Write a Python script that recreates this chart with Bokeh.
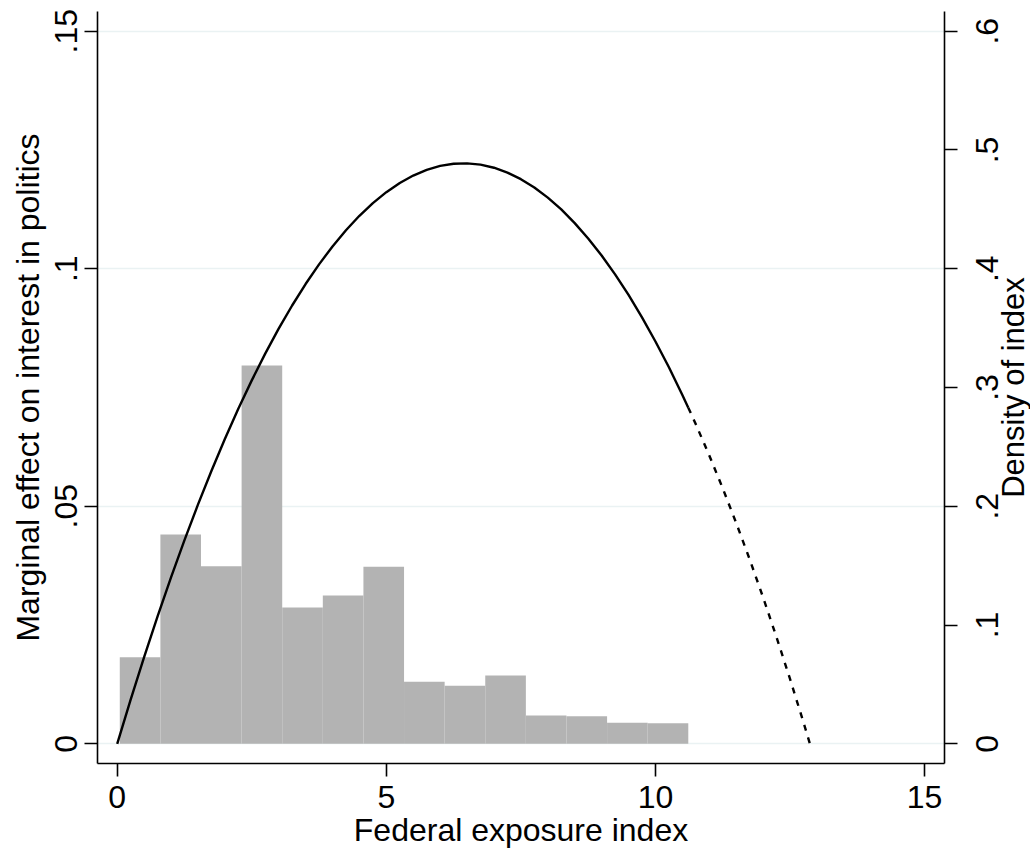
import math
import numpy as np
from bokeh.plotting import figure
from bokeh.models import Range1d, LinearAxis, FixedTicker
from bokeh.layouts import row
from bokeh.core.properties import value
from bokeh.embed import file_html
from bokeh.resources import INLINE

# ---- data ----
# histogram of the federal exposure index (density, right axis)
bin_lo = 0.048
bin_hi = 10.61
density = [0.0729, 0.1762, 0.1495, 0.3185, 0.1148, 0.1249, 0.1490,
           0.0522, 0.0488, 0.0575, 0.0238, 0.0232, 0.0177, 0.0173]

# marginal effect on interest in politics (left axis), observed range
me_x_obs = [0, 0.25, 0.5, 0.75, 1, 1.25, 1.5, 1.75, 2, 2.25, 2.5, 2.75, 3,
            3.25, 3.5, 3.75, 4, 4.25, 4.5, 4.75, 5, 5.25, 5.5, 5.75, 6, 6.25,
            6.5, 6.75, 7, 7.25, 7.5, 7.75, 8, 8.25, 8.5, 8.75, 9, 9.25, 9.5,
            9.75, 10, 10.25, 10.5, 10.61]
me_y_obs = [0, 0.00931, 0.01825, 0.02682, 0.03503, 0.04286, 0.05033, 0.05743,
            0.06416, 0.07051, 0.07650, 0.08213, 0.08738, 0.09226, 0.09678,
            0.10092, 0.10470, 0.10811, 0.11115, 0.11382, 0.11612, 0.11805,
            0.11962, 0.12081, 0.12164, 0.12210, 0.12219, 0.12191, 0.12126,
            0.12024, 0.11885, 0.11710, 0.11497, 0.11248, 0.10961, 0.10638,
            0.10278, 0.09881, 0.09448, 0.08977, 0.08469, 0.07925, 0.07344,
            0.07076]
# extrapolated part (dashed)
me_x_ext = [10.61, 10.75, 11, 11.25, 11.5, 11.75, 12, 12.25, 12.5, 12.75, 12.87]
me_y_ext = [0.07076, 0.06725, 0.06070, 0.05378, 0.04649, 0.03884, 0.03081,
            0.02241, 0.01365, 0.00452, 0]

x_ticks = [0, 5, 10, 15]
left_ticks = [0, 0.05, 0.1, 0.15]
left_labels = ["0", ".05", ".1", ".15"]
right_ticks = [0, 0.1, 0.2, 0.3, 0.4, 0.5, 0.6]
right_labels = ["0", ".1", ".2", ".3", ".4", ".5", ".6"]

x_title = "Federal exposure index"
left_title = "Marginal effect on interest in politics"
right_title = "Density of index"

# ---- styling ----
FONT = "Liberation Sans"
FS = "32px"
FS_R = "31px"
BAR = "#b3b3b3"
GRID = "#eaf2f3"
TOP, BOTTOM = 11, 90

XR = Range1d(-0.366, 15.37)
YR = Range1d(-0.00415, 0.15415)
DENS = Range1d(-0.0166, 0.6166)

p = figure(width=964, height=853, output_backend="svg", toolbar_location=None,
           x_range=XR, y_range=YR,
           min_border_left=97, min_border_right=20, min_border_top=TOP,
           min_border_bottom=BOTTOM)
p.outline_line_color = None
p.background_fill_color = "white"
p.border_fill_color = "white"
p.extra_y_ranges = {"dens": DENS}

edges = np.linspace(bin_lo, bin_hi, len(density) + 1)
p.quad(left=edges[:-1], right=edges[1:], bottom=0, top=density,
       y_range_name="dens", fill_color=BAR, line_color=None)

p.line(me_x_obs, me_y_obs, line_color="black", line_width=2.4,
       line_join="round")
p.line(me_x_ext, me_y_ext, line_color="black", line_width=2.4,
       line_dash="6 7")

def style_axis(ax):
    ax.axis_line_color = "black"
    ax.axis_line_width = 1.6
    ax.major_tick_line_color = "black"
    ax.major_tick_line_width = 1.6
    ax.major_tick_out = 13
    ax.major_tick_in = 0
    ax.minor_tick_line_color = None
    ax.major_label_text_font = FONT
    ax.major_label_text_font_size = FS
    ax.major_label_text_color = "black"
    ax.axis_label_text_font = FONT
    ax.axis_label_text_font_size = FS
    ax.axis_label_text_font_style = "normal"
    ax.axis_label_text_color = "black"

xa = p.xaxis[0]
xa.ticker = FixedTicker(ticks=x_ticks)
xa.axis_label = x_title
style_axis(xa)
xa.major_label_standoff = 9
xa.axis_label_standoff = 1

ya = p.yaxis[0]
ya.ticker = FixedTicker(ticks=left_ticks)
ya.major_label_overrides = {t: l for t, l in zip(left_ticks, left_labels)}
ya.major_label_orientation = "vertical"
ya.axis_label = left_title
style_axis(ya)
ya.major_label_standoff = 7
ya.axis_label_standoff = 7

# right axis: line and ticks only; its texts are set in the side panel
ra = LinearAxis(y_range_name="dens", ticker=FixedTicker(ticks=right_ticks))
style_axis(ra)
ra.major_label_overrides = {t: "" for t in right_ticks}
ra.major_label_text_font_size = "1px"
ra.major_label_standoff = 0
ra.axis_label = None
p.add_layout(ra, "right")

p.xgrid.visible = False
p.ygrid.grid_line_color = GRID
p.ygrid.grid_line_width = 1.5
p.ygrid.ticker = FixedTicker(ticks=left_ticks)

# side panel for the right-axis texts (read bottom to top, as in the original)
SIDE_W = 1030 - 964
p2 = figure(width=SIDE_W, height=853, output_backend="svg",
            toolbar_location=None, x_axis_type=None, y_axis_type=None,
            x_range=Range1d(0, SIDE_W), y_range=DENS,
            min_border_left=0, min_border_right=0, min_border_top=TOP,
            min_border_bottom=BOTTOM)
p2.outline_line_color = None
p2.background_fill_color = "white"
p2.border_fill_color = "white"
p2.xgrid.visible = False
p2.ygrid.visible = False

p2.text(x=[22] * len(right_ticks), y=right_ticks, text=right_labels,
        angle=math.pi / 2, text_align="center", text_baseline="alphabetic",
        text_font=value(FONT), text_font_size=value(FS), text_color="black")
p2.text(x=[49], y=[0.3], text=[right_title],
        angle=math.pi / 2, text_align="center", text_baseline="alphabetic",
        text_font=value(FONT), text_font_size=value(FS_R), text_color="black")

layout = row(p, p2, spacing=0)
open("out.html", "w").write(file_html(layout, INLINE))
